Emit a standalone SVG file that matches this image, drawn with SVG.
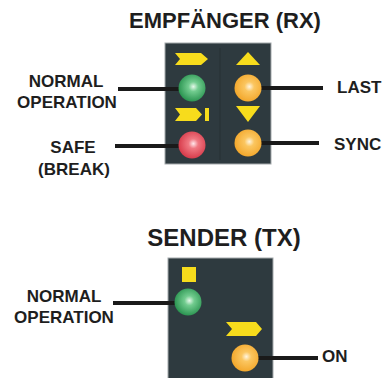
<svg xmlns="http://www.w3.org/2000/svg" width="384" height="378" viewBox="0 0 384 378">
<style>
.t{font-family:"Liberation Sans",Arial,sans-serif;font-weight:bold;fill:#1e1e1e;}
.lbl{font-size:17px;}
.title{font-size:22px;text-anchor:middle;}
.panel{fill:#2e3a3f;stroke:#a4a9ac;stroke-width:1;}
.y{fill:#f7dc1c;}
.ln{stroke:#1a1a1a;stroke-width:4;}
</style>
<defs>
<radialGradient id="gG" cx="0.55" cy="0.45" r="0.6"><stop offset="0" stop-color="#e6f8ea"/><stop offset="0.3" stop-color="#72cc8f"/><stop offset="1" stop-color="#238e4a"/></radialGradient>
<radialGradient id="gR" cx="0.55" cy="0.45" r="0.6"><stop offset="0" stop-color="#ffe8ec"/><stop offset="0.3" stop-color="#f07882"/><stop offset="1" stop-color="#d43444"/></radialGradient>
<radialGradient id="gO" cx="0.55" cy="0.45" r="0.6"><stop offset="0" stop-color="#fff5e0"/><stop offset="0.3" stop-color="#fbc660"/><stop offset="1" stop-color="#f2a426"/></radialGradient>
</defs>
<text class="t title" x="225" y="28">EMPFÄNGER (RX)</text>
<text class="t title" x="224" y="246" style="font-size:24px">SENDER (TX)</text>
<g id="rx-panel">
<rect class="panel" x="165" y="43" width="106" height="121"/>
<line x1="220" y1="48" x2="220" y2="160" stroke="#2a3539" stroke-width="1.5"/>
</g>
<g id="tx-panel">
<rect class="panel" x="168" y="258" width="105" height="125"/>
</g>
<g id="connectors">
<line class="ln" x1="118" y1="89" x2="192" y2="89"/>
<line class="ln" x1="115" y1="146" x2="192" y2="146"/>
<line class="ln" x1="248" y1="88" x2="323" y2="88"/>
<line class="ln" x1="248" y1="143" x2="319" y2="143"/>
<line class="ln" x1="113" y1="303" x2="188" y2="303"/>
<line class="ln" x1="245" y1="358" x2="318" y2="358"/>
</g>
<g id="rx-normal">
<polygon class="y" points="175,53 201,53 208,59 201,65 175,65 180,59"/>
<circle cx="192" cy="88" r="13.5" fill="url(#gG)"/>
<text class="t lbl" x="66" y="87" text-anchor="middle">NORMAL</text>
<text class="t lbl" x="67" y="108" text-anchor="middle">OPERATION</text>
</g>
<g id="rx-last">
<polygon class="y" points="248,52 260,65 236,65"/>
<circle cx="248" cy="88" r="13.5" fill="url(#gO)"/>
<text class="t lbl" x="337" y="93">LAST</text>
</g>
<g id="rx-safe">
<polygon class="y" points="175,108 196,108 202,114.5 196,121 175,121 180,114.5"/>
<rect class="y" x="205" y="108" width="4" height="13"/>
<circle cx="192" cy="145" r="13.5" fill="url(#gR)"/>
<text class="t lbl" x="73" y="153" text-anchor="middle">SAFE</text>
<text class="t lbl" x="74" y="175" text-anchor="middle">(BREAK)</text>
</g>
<g id="rx-sync">
<polygon class="y" points="236,106 260,106 248,122"/>
<circle cx="248" cy="143" r="13.5" fill="url(#gO)"/>
<text class="t lbl" x="334" y="150">SYNC</text>
</g>
<g id="tx-normal">
<rect class="y" x="182" y="267" width="14" height="15"/>
<circle cx="188" cy="302" r="13.5" fill="url(#gG)"/>
<text class="t lbl" x="64" y="302" text-anchor="middle">NORMAL</text>
<text class="t lbl" x="64" y="323" text-anchor="middle">OPERATION</text>
</g>
<g id="tx-on">
<polygon class="y" points="226,322 256,322 262,329 256,336 226,336 232,329"/>
<circle cx="245" cy="358" r="13.5" fill="url(#gO)"/>
<text class="t lbl" x="322" y="362">ON</text>
</g>
</svg>
